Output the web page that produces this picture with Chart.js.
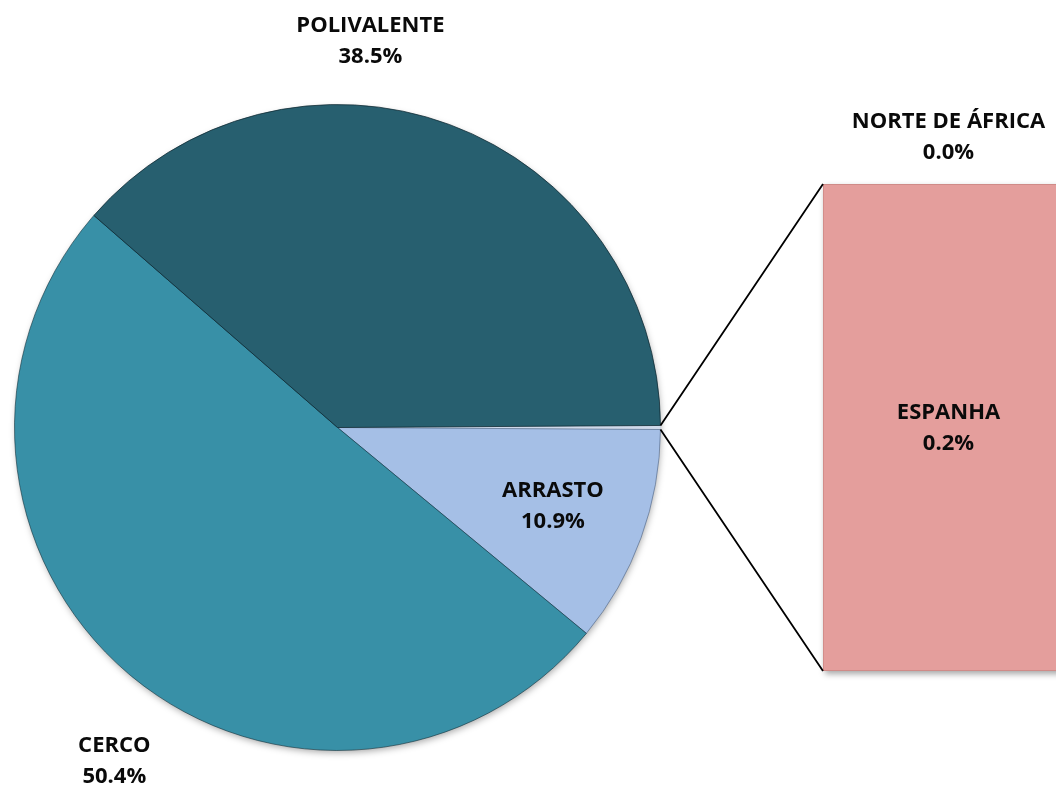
<!DOCTYPE html>
<html>
<head>
<meta charset="utf-8">
<script src="https://cdn.jsdelivr.net/npm/chart.js@4.4.1/dist/chart.umd.min.js"></script>
<style>
  html, body { margin: 0; padding: 0; background: #ffffff; overflow: hidden; width: 1056px; height: 790px; }
  #wrap { position: relative; width: 1056px; height: 790px; overflow: hidden; }
  canvas { position: absolute; left: 0; top: 0; }
</style>
</head>
<body>
<div id="wrap">
  <canvas id="pie" width="1056" height="790"></canvas>
  <canvas id="bar" width="1100" height="790"></canvas>
</div>
<script>
// ---- data ----
const pieLabels = ['ARRASTO', 'CERCO', 'POLIVALENTE'];
const pieValues = [10.9, 50.4, 38.5];
const barLabels = ['ESPANHA', 'NORTE DE ÁFRICA'];
const barValues = [0.2, 0.0];

// ---- styles ----
const pieColors = ['#A5BFE6', '#3890A7', '#275F6F'];
const barColor = '#E49E9C';
const FONT = 'bold 22px "Open Sans", "Liberation Sans", sans-serif';
const TEXT = '#0a0a0a';

const otherValue = barValues.reduce((a, b) => a + b, 0);
const pieData = [otherValue].concat(pieValues);
const pieTotal = pieData.reduce((a, b) => a + b, 0);
const rotation = 90 - (otherValue / pieTotal) * 360 / 2;

// label placement (relative to pie centre, in units of radius)
const pieLabelPos = [
  { dx: 0.667, dy: 0.243 },   // ARRASTO (inside)
  { dx: -0.691, dy: 1.034 },  // CERCO (outside)
  { dx: 0.102, dy: -1.196 }   // POLIVALENTE (outside)
];

function drawLabel(ctx, x, y, lines) {
  ctx.save();
  ctx.font = FONT;
  ctx.fillStyle = TEXT;
  ctx.textAlign = 'center';
  ctx.textBaseline = 'middle';
  const lh = 31;
  const y0 = y - (lines.length - 1) * lh / 2;
  lines.forEach((t, i) => ctx.fillText(t, x, y0 + i * lh));
  ctx.restore();
}

function pct(v) { return v.toFixed(1) + '%'; }

const pieShadow = {
  id: 'pieShadow',
  beforeDatasetsDraw(chart) {
    const arc = chart.getDatasetMeta(0).data[0];
    const ctx = chart.ctx;
    ctx.save();
    ctx.shadowColor = 'rgba(0,0,0,0.35)';
    ctx.shadowBlur = 7;
    ctx.shadowOffsetX = 1;
    ctx.shadowOffsetY = 3;
    ctx.fillStyle = '#3a7f90';
    ctx.beginPath();
    ctx.arc(arc.x, arc.y, arc.outerRadius - 1, 0, Math.PI * 2);
    ctx.fill();
    ctx.restore();
  }
};

const pieLabelPlugin = {
  id: 'pieLabels',
  afterDatasetsDraw(chart) {
    const meta = chart.getDatasetMeta(0);
    const arc0 = meta.data[0];
    const cx = arc0.x, cy = arc0.y, r = arc0.outerRadius;
    pieLabels.forEach((lab, i) => {
      const p = pieLabelPos[i];
      drawLabel(chart.ctx, cx + p.dx * r, cy + p.dy * r, [lab, pct(pieValues[i])]);
    });
  }
};

const pieChart = new Chart(document.getElementById('pie'), {
  type: 'pie',
  data: {
    labels: ['OUTROS'].concat(pieLabels),
    datasets: [{
      data: pieData,
      backgroundColor: ['#cfd9ea'].concat(pieColors),
      borderColor: ['rgba(200,210,225,0.8)', 'rgba(60,80,110,0.5)', 'rgba(20,50,60,0.6)', 'rgba(15,40,50,0.75)'],
      borderWidth: 1
    }]
  },
  options: {
    responsive: false,
    animation: false,
    devicePixelRatio: 1,
    rotation: rotation,
    layout: { padding: { left: 14, top: 104, right: 395, bottom: 39 } },
    plugins: { legend: { display: false }, tooltip: { enabled: false } }
  },
  plugins: [pieShadow, pieLabelPlugin]
});

const connectorPlugin = {
  id: 'connectors',
  afterDatasetsDraw(chart) {
    const ctx = chart.ctx;
    const arc = pieChart.getDatasetMeta(0).data[0];
    const r = arc.outerRadius;
    const p1 = { x: arc.x + r * Math.cos(arc.startAngle), y: arc.y + r * Math.sin(arc.startAngle) };
    const p2 = { x: arc.x + r * Math.cos(arc.endAngle), y: arc.y + r * Math.sin(arc.endAngle) };
    const bar = chart.getDatasetMeta(0).data[0];
    const left = bar.x - bar.width / 2;
    const yTop = chart.scales.y.getPixelForValue(otherValue);
    const yBot = chart.scales.y.getPixelForValue(0);
    ctx.save();
    ctx.strokeStyle = '#000000';
    ctx.lineWidth = 1.8;
    ctx.beginPath();
    ctx.moveTo(p1.x, p1.y); ctx.lineTo(left, yTop);
    ctx.moveTo(p2.x, p2.y); ctx.lineTo(left, yBot);
    ctx.stroke();
    ctx.restore();

    // labels
    const cx = bar.x;
    drawLabel(ctx, cx, (yTop + yBot) / 2 + 1, [barLabels[0], pct(barValues[0])]);
    drawLabel(ctx, cx, yTop - 47, [barLabels[1], pct(barValues[1])]);
  }
};

const barShadow = {
  id: 'barShadow',
  beforeDatasetsDraw(chart) {
    const bar = chart.getDatasetMeta(0).data[0];
    const ctx = chart.ctx;
    const left = bar.x - bar.width / 2;
    const yTop = chart.scales.y.getPixelForValue(otherValue);
    const yBot = chart.scales.y.getPixelForValue(0);
    ctx.save();
    ctx.shadowColor = 'rgba(0,0,0,0.35)';
    ctx.shadowBlur = 6;
    ctx.shadowOffsetX = 2;
    ctx.shadowOffsetY = 3;
    ctx.fillStyle = barColor;
    ctx.fillRect(left, yTop, bar.width, yBot - yTop);
    ctx.restore();
  }
};

new Chart(document.getElementById('bar'), {
  type: 'bar',
  data: {
    labels: [''],
    datasets: barLabels.map((lab, i) => ({
      label: lab,
      data: [barValues[i]],
      backgroundColor: barColor,
      borderColor: '#C98482',
      borderWidth: i === 0 ? 1 : 0,
      borderSkipped: false,
      barPercentage: 1,
      categoryPercentage: 1
    }))
  },
  options: {
    responsive: false,
    animation: false,
    devicePixelRatio: 1,
    layout: { padding: { left: 823, top: 184, right: 26, bottom: 119 } },
    scales: {
      x: { display: false, stacked: true },
      y: { display: false, stacked: true, min: 0, max: otherValue }
    },
    plugins: { legend: { display: false }, tooltip: { enabled: false } }
  },
  plugins: [barShadow, connectorPlugin]
});
</script>
</body>
</html>
